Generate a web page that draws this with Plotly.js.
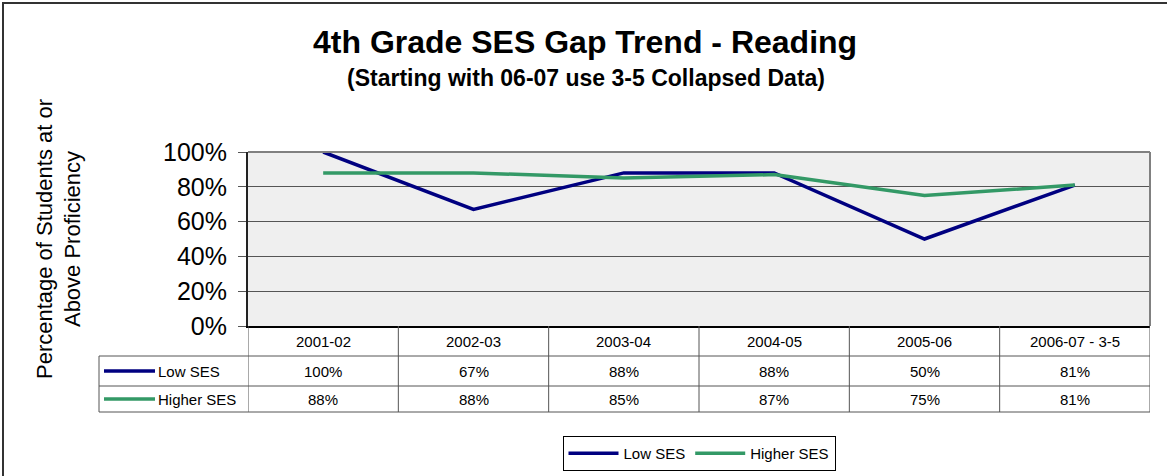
<!DOCTYPE html>
<html>
<head>
<meta charset="utf-8">
<script src="https://cdn.plot.ly/plotly-3.0.1.min.js"></script>
<style>html,body{margin:0;padding:0;background:#fff;}#chart{width:1167px;height:476px;}</style>
</head>
<body>
<div id="chart"></div>
<script>
const categories = ["2001-02", "2002-03", "2003-04", "2004-05", "2005-06", "2006-07 - 3-5"];
const lowSES = [100, 67, 88, 88, 50, 81];
const higherSES = [88, 88, 85, 87, 75, 81];
const seriesNames = ["Low SES", "Higher SES"];
const yTicks = [0, 20, 40, 60, 80, 100];

const FW = 1167, FH = 476;
const L = 248, R = 17, T = 152, B = 150;
const W = FW - L - R, H = FH - T - B;
const px = x => (x - L) / W;
const py = y => (FH - B - y) / H;
const FONT = "Arial, 'Liberation Sans', sans-serif";
const colors = ["#000080", "#339966"];
const seriesVals = [lowSES, higherSES];

const traces = seriesVals.map((vals, i) => ({
  type: "scatter", mode: "lines", name: seriesNames[i],
  x: categories, y: vals,
  line: {color: colors[i], width: 3.5},
  hoverinfo: "skip"
}));

const shapes = [];
const annotations = [];
const gridCol = "#555555";
// outer frame
shapes.push({type: "rect", xref: "paper", yref: "paper", x0: px(3), x1: px(1190), y0: py(3), y1: py(500), line: {color: "#333", width: 2}, layer: "below"});
// plot area top/right borders
shapes.push({type: "line", xref: "paper", yref: "paper", x0: 0, x1: 1, y0: 1, y1: 1, line: {color: "#808080", width: 2}});
shapes.push({type: "line", xref: "paper", yref: "paper", x0: 1, x1: 1, y0: 0, y1: 1, line: {color: "#808080", width: 2}});
// data table grid
const rowY = [326, 356, 386, 412];
for (let i = 0; i <= categories.length; i++) {
  shapes.push({type: "line", xref: "x", yref: "paper", x0: i - 0.5, x1: i - 0.5, y0: py(326), y1: py(rowY[3]), line: {color: gridCol, width: 1}});
}
shapes.push({type: "line", xref: "paper", yref: "paper", x0: px(99), x1: px(99), y0: py(356), y1: py(rowY[3]), line: {color: gridCol, width: 1}});
[356, 386, 412].forEach(y => {
  shapes.push({type: "line", xref: "paper", yref: "paper", x0: px(99), x1: 1, y0: py(y), y1: py(y), line: {color: gridCol, width: 1}});
});
// header row text
categories.forEach((c, i) => {
  annotations.push({xref: "x", yref: "paper", x: c, y: py(341), yanchor: "middle", text: c, showarrow: false, font: {family: FONT, size: 15, color: "#000"}});
});
// value rows
seriesVals.forEach((vals, s) => {
  const yc = s === 0 ? 371 : 399;
  vals.forEach((v, i) => {
    annotations.push({xref: "x", yref: "paper", x: categories[i], y: py(yc), yanchor: "middle", text: Math.round(v) + "%", showarrow: false, font: {family: FONT, size: 15, color: "#000"}});
  });
  shapes.push({type: "line", xref: "paper", yref: "paper", x0: px(104), x1: px(155), y0: py(yc), y1: py(yc), line: {color: colors[s], width: 3.5}});
  annotations.push({xref: "paper", yref: "paper", x: px(156), y: py(yc), xanchor: "left", yanchor: "middle", text: seriesNames[s], showarrow: false, font: {family: FONT, size: 15, color: "#000"}});
});
// titles
annotations.push({xref: "paper", yref: "paper", x: px(585), y: py(42), yanchor: "middle", text: "<b>4th Grade SES Gap Trend - Reading</b>", showarrow: false, font: {family: FONT, size: 32, color: "#000"}});
annotations.push({xref: "paper", yref: "paper", x: px(586), y: py(78), yanchor: "middle", text: "<b>(Starting with 06-07 use 3-5 Collapsed Data)</b>", showarrow: false, font: {family: FONT, size: 23, color: "#000"}});

const layout = {
  width: FW, height: FH,
  margin: {l: L, r: R, t: T, b: B, pad: 0, autoexpand: false},
  paper_bgcolor: "#ffffff",
  plot_bgcolor: "#efefef",
  showlegend: true,
  legend: {
    orientation: "h", x: 0.5, xanchor: "center", y: py(436), yanchor: "top",
    bgcolor: "#ffffff", bordercolor: "#000", borderwidth: 1,
    font: {family: FONT, size: 15, color: "#000"},
    itemwidth: 50, tracegroupgap: 0
  },
  xaxis: {
    type: "category", range: [-0.5, categories.length - 0.5],
    showticklabels: false, ticks: "", showgrid: false, zeroline: false,
    showline: true, linecolor: "#000", linewidth: 2, fixedrange: true
  },
  yaxis: {
    range: [0, 100], tickvals: yTicks, ticktext: yTicks.map(v => v + "%"),
    tickfont: {family: FONT, size: 25, color: "#000"},
    ticks: "outside", ticklen: 8, tickcolor: "#555", tickwidth: 1,
    ticklabelstandoff: 6,
    showgrid: true, gridcolor: "#555555", gridwidth: 1, zeroline: false,
    showline: true, linecolor: "#222", linewidth: 2, fixedrange: true,
    title: {text: "Percentage of Students at or<br>Above Proficiency", font: {family: FONT, size: 22, color: "#000"}, standoff: 76}
  },
  shapes: shapes,
  annotations: annotations
};

Plotly.newPlot("chart", traces, layout, {displayModeBar: false, staticPlot: true});
</script>
</body>
</html>
